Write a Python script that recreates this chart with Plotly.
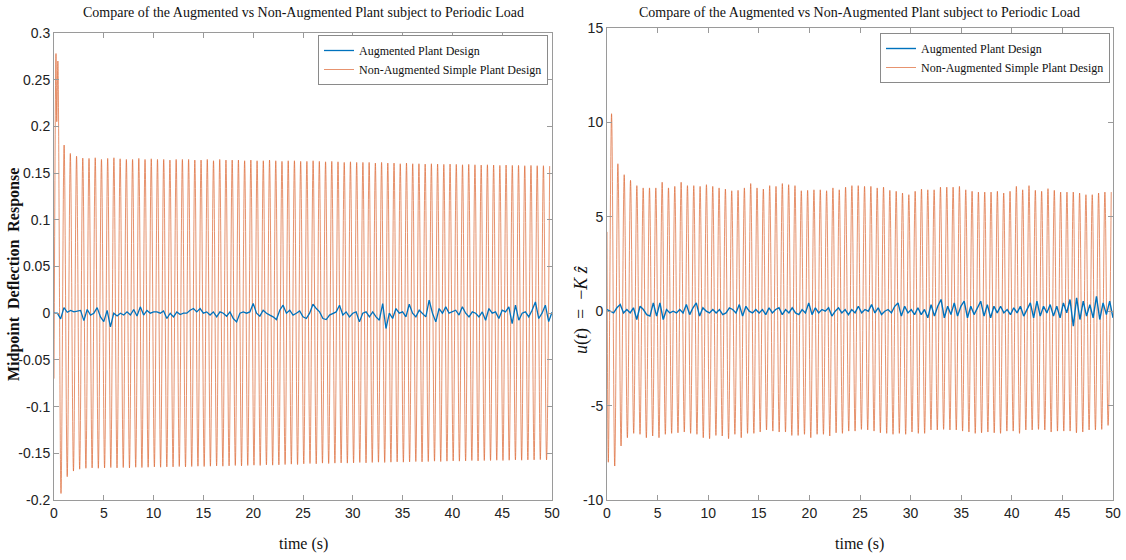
import numpy as np
import plotly.graph_objects as go

# ---------------- data ----------------
PERIOD = 0.625          # s, oscillation period of the periodic load response
HALF = PERIOD / 2

# Left panel: midpoint deflection, non-augmented (orange) extrema
left_prefix_t = [0.0, 0.20, 0.28]
left_prefix_v = [-0.07, 0.278, 0.205]
left_first_t = 0.39
left_peaks = [0.270, 0.180, 0.171, 0.168, 0.166, 0.1657, 0.1664, 0.1646, 0.1657, 0.1664,
              0.1653, 0.1646, 0.1646, 0.1657, 0.1646, 0.1653, 0.1646, 0.1646, 0.1639, 0.1646,
              0.1646, 0.1646, 0.1639, 0.1639, 0.1646, 0.1632, 0.1646, 0.1639, 0.1639, 0.1639,
              0.1632, 0.1639, 0.1632, 0.1632, 0.1639, 0.1632, 0.1625, 0.1632, 0.1632, 0.1625,
              0.1625, 0.1632, 0.1625, 0.1621, 0.1625, 0.1621, 0.1614, 0.1621, 0.1614, 0.1614,
              0.1614, 0.1607, 0.1614, 0.1607, 0.1607, 0.1600, 0.1607, 0.1600, 0.1600, 0.1596,
              0.1600, 0.1596, 0.1593, 0.1596, 0.1593, 0.1589, 0.1593, 0.1589, 0.1586, 0.1589,
              0.1586, 0.1582, 0.1586, 0.1582, 0.1582, 0.1579, 0.1582, 0.1579, 0.1579, 0.1575]
left_troughs = [-0.193, -0.175, -0.169, -0.167, -0.1660, -0.1656, -0.1660, -0.1656, -0.1652, -0.1656,
                -0.1652, -0.1656, -0.1649, -0.1652, -0.1649, -0.1645, -0.1649, -0.1645, -0.1645, -0.1641,
                -0.1645, -0.1641, -0.1638, -0.1641, -0.1638, -0.1634, -0.1638, -0.1634, -0.1630, -0.1634,
                -0.1630, -0.1627, -0.1630, -0.1623, -0.1627, -0.1623, -0.1620, -0.1616, -0.1620, -0.1612,
                -0.1609, -0.1612, -0.1605, -0.1609, -0.1605, -0.1602, -0.1605, -0.1602, -0.1598, -0.1602,
                -0.1598, -0.1595, -0.1598, -0.1595, -0.1591, -0.1595, -0.1591, -0.1588, -0.1591, -0.1588,
                -0.1584, -0.1588, -0.1584, -0.1581, -0.1584, -0.1581, -0.1577, -0.1581, -0.1577, -0.1577,
                -0.1574, -0.1577, -0.1574, -0.1570, -0.1574, -0.1570, -0.1570, -0.1567, -0.1570]

# Left panel: augmented plant (blue), sampled roughly every 1/3 s over 0..50 s
left_blue = [0.000, 0.000, -0.006, 0.006, 0.001, 0.003, 0.0014, 0.0025, 0.003, -0.008,
             0.004, -0.002, 0.000, 0.006, -0.004, -0.009, 0.003, -0.0146, 0.000, -0.003,
             0.000, -0.002, 0.0014, -0.002, 0.0039, -0.003, 0.0068, -0.002, 0.003, 0.000,
             0.0014, 0.0014, 0.000, 0.0025, -0.0057, 0.000, -0.0039, 0.0014, -0.0014, 0.000,
             0.000, 0.0032, 0.005, 0.0014, 0.005, 0.000, 0.0014, -0.002, 0.0014, -0.0039,
             0.0014, 0.000, -0.0032, 0.0014, -0.0057, -0.0093, 0.000, 0.0014, 0.000, 0.0014,
             0.0103, 0.000, -0.0032, 0.0032, 0.000, -0.002, -0.0039, -0.0068, 0.0032, 0.0086,
             0.000, 0.0032, -0.002, 0.000, 0.0025, -0.0039, -0.0057, 0.000, 0.0096, 0.005,
             0.0014, -0.0057, -0.0068, -0.002, 0.000, 0.0014, 0.0086, -0.002, 0.0014, -0.0039,
             0.000, 0.0014, -0.0093, 0.000, 0.0014, -0.0039, 0.0014, -0.0039, -0.0075, 0.0103,
             -0.0164, 0.000, -0.0057, 0.005, 0.000, 0.0014, -0.0039, 0.0096, 0.000, -0.0039,
             0.0032, 0.000, -0.0039, 0.0139, 0.000, -0.0093, 0.005, 0.000, 0.0068, 0.000,
             0.0014, 0.0032, -0.002, 0.0068, 0.000, -0.0039, 0.0014, 0.000, -0.0039, 0.0014,
             -0.0075, 0.005, 0.000, 0.0014, -0.0057, 0.0032, 0.0014, 0.0068, -0.0111, 0.0086,
             -0.0075, 0.000, 0.0014, -0.0039, 0.0032, 0.0121, -0.0057, 0.000, 0.0086, -0.009,
             0.001]

# Right panel: control input u(t) = -K z_hat, non-augmented (orange) extrema
right_prefix_t = [0.0, 0.13]
right_prefix_v = [4.2, -8.0]
right_first_t = 0.45
right_peaks = [10.46, 7.81, 7.23, 6.93, 6.65, 6.53, 6.53, 6.53, 6.83, 6.53,
               6.61, 6.83, 6.65, 6.65, 6.61, 6.70, 6.61, 6.53, 6.47, 6.38,
               6.40, 6.53, 6.76, 6.53, 6.47, 6.65, 6.61, 6.76, 6.70, 6.65,
               6.38, 6.40, 6.43, 6.43, 6.38, 6.53, 6.43, 6.57, 6.65, 6.65,
               6.61, 6.61, 6.53, 6.57, 6.40, 6.35, 6.26, 6.17, 6.35, 6.47,
               6.43, 6.43, 6.57, 6.57, 6.57, 6.61, 6.43, 6.35, 6.31, 6.31,
               6.31, 6.35, 6.26, 6.35, 6.61, 6.43, 6.65, 6.40, 6.35, 6.49,
               6.40, 6.31, 6.31, 6.31, 6.26, 6.17, 6.17, 6.26, 6.31, 6.31]
right_troughs = [-8.2, -7.14, -6.70, -6.47, -6.52, -6.70, -6.61, -6.70, -6.52, -6.47,
                 -6.44, -6.40, -6.47, -6.52, -6.70, -6.75, -6.58, -6.61, -6.75, -6.52,
                 -6.70, -6.47, -6.47, -6.40, -6.29, -6.35, -6.40, -6.40, -6.58, -6.58,
                 -6.52, -6.70, -6.52, -6.52, -6.61, -6.44, -6.47, -6.35, -6.35, -6.26,
                 -6.29, -6.35, -6.44, -6.47, -6.52, -6.47, -6.52, -6.40, -6.47, -6.47,
                 -6.29, -6.29, -6.26, -6.29, -6.29, -6.35, -6.40, -6.47, -6.44, -6.40,
                 -6.44, -6.47, -6.35, -6.35, -6.47, -6.29, -6.29, -6.26, -6.29, -6.40,
                 -6.35, -6.35, -6.35, -6.44, -6.40, -6.29, -6.29, -6.26, -6.05]

# Right panel: augmented plant (blue), sampled roughly every 1/3 s over 0..50 s
right_blue = [0.09, 0, -0.09, 0.18, 0.35, -0.09, 0.09, -0.09, 0.18, -0.44,
              0.26, 0.09, -0.18, -0.26, 0.44, -0.26, 0.44, -0.44, 0.09, -0.09,
              0, -0.09, 0.09, -0.09, 0.35, -0.18, 0.18, 0.44, -0.26, 0.18,
              0, -0.09, 0.09, -0.09, 0.09, -0.18, -0.09, 0.18, 0.09, -0.09,
              0.35, -0.26, 0.26, 0, -0.09, 0.09, -0.09, 0.09, -0.18, 0.18,
              -0.09, 0.09, 0.18, -0.18, 0.09, -0.09, 0.18, -0.09, -0.18, 0.09,
              -0.09, 0.44, -0.18, 0.18, -0.09, 0.09, 0, 0.18, -0.26, 0,
              0.18, -0.09, 0.09,
              -0.18, 0.09, -0.09, 0.26, -0.09, 0.09, 0, 0.35, -0.09, 0.18,
              -0.18, 0, 0.09, -0.09, 0.26, 0.44, -0.26, 0.26, -0.09, 0.09,
              -0.18, 0.18, -0.18, 0.09, -0.35, 0.35, -0.26, 0.26, 0.62, -0.35,
              0.26, -0.18, 0.44, -0.26, 0.26, 0.53, -0.35, 0.26, -0.18, 0.18,
              0.53, -0.26, 0.35, -0.35, 0.26, -0.09, 0.26, -0.09, 0.09, -0.18,
              0.18, -0.09, 0.26, -0.26, 0.09, 0.44, -0.35, 0.53, -0.26, 0.26,
              -0.09, 0.35, -0.26, 0.26, -0.35, 0.44, -0.09, 0.62, -0.79, 0.71,
              -0.44, 0.53, -0.26, 0.35, -0.35, 0.79, -0.44, 0.44, -0.18, 0.53,
              -0.35]

T_END = 50.0
x_ticks = [0, 5, 10, 15, 20, 25, 30, 35, 40, 45, 50]
left_yticks = [0.3, 0.25, 0.2, 0.15, 0.1, 0.05, 0, -0.05, -0.1, -0.15, -0.2]
left_yticklabels = ["0.3", "0.25", "0.2", "0.15", "0.1", "0.05", "0", "-0.05", "-0.1", "-0.15", "-0.2"]
right_yticks = [15, 10, 5, 0, -5, -10]
right_yticklabels = ["15", "10", "5", "0", "-5", "-10"]

TITLE = "Compare of the Augmented vs Non-Augmented Plant subject to Periodic Load"
NAME_A = "Augmented Plant Design"
NAME_N = "Non-Augmented Simple Plant Design"

BLUE = "#0072BD"
ORANGE = "#D95319"
SERIF = "Liberation Serif, Times New Roman, serif"
SANS = "Liberation Sans, Arial, sans-serif"


def extrema_series(prefix_t, prefix_v, t_first, peaks, troughs):
    vals = []
    for i in range(max(len(peaks), len(troughs))):
        if i < len(peaks):
            vals.append(peaks[i])
        if i < len(troughs):
            vals.append(troughs[i])
    t = t_first + HALF * np.arange(len(vals))
    return np.concatenate([prefix_t, t]), np.concatenate([prefix_v, vals])


lt, lv = extrema_series(left_prefix_t, left_prefix_v, left_first_t, left_peaks, left_troughs)
rt, rv = extrema_series(right_prefix_t, right_prefix_v, right_first_t, right_peaks, right_troughs)
lbt = np.linspace(0, T_END, len(left_blue))
rbt = np.linspace(0, T_END, len(right_blue))

fig = go.Figure()
# orange first (drawn underneath), blue on top
fig.add_trace(go.Scatter(x=lt, y=lv, mode="lines", name=NAME_N, line=dict(color=ORANGE, width=0.7, shape="spline"),
                         opacity=0.9, xaxis="x", yaxis="y", legend="legend", legendrank=2))
fig.add_trace(go.Scatter(x=lbt, y=left_blue, mode="lines", name=NAME_A, line=dict(color=BLUE, width=1.3),
                         xaxis="x", yaxis="y", legend="legend", legendrank=1))
fig.add_trace(go.Scatter(x=rt, y=rv, mode="lines", name=NAME_N, line=dict(color=ORANGE, width=0.7, shape="spline"),
                         opacity=0.9, xaxis="x2", yaxis="y2", legend="legend2", legendrank=2))
fig.add_trace(go.Scatter(x=rbt, y=right_blue, mode="lines", name=NAME_A, line=dict(color=BLUE, width=1.4),
                         xaxis="x2", yaxis="y2", legend="legend2", legendrank=1))

W, H = 1126, 560
axcol = "#9a9a9a"
common_x = dict(range=[0, 50], tickvals=x_ticks, ticks="inside", ticklen=5, tickcolor=axcol,
                showline=True, linecolor=axcol, linewidth=1, mirror="ticks", showgrid=False, zeroline=False,
                automargin=False, tickfont=dict(family=SANS, size=14, color="#222222"))
common_y = dict(ticks="inside", ticklen=5, tickcolor=axcol, showline=True, linecolor=axcol, linewidth=1,
                mirror="ticks", showgrid=False, zeroline=False, automargin=False,
                tickfont=dict(family=SANS, size=14, color="#222222"))

fig.update_layout(
    width=W, height=H,
    margin=dict(l=0, r=0, t=0, b=0, autoexpand=False),
    paper_bgcolor="white", plot_bgcolor="white",
    xaxis=dict(domain=[54 / W, 552 / W], anchor="y", **common_x),
    yaxis=dict(domain=[1 - 500 / H, 1 - 33 / H], anchor="x", range=[-0.2, 0.3],
               tickvals=left_yticks, ticktext=left_yticklabels, **common_y),
    xaxis2=dict(domain=[607 / W, 1113 / W], anchor="y2", **common_x),
    yaxis2=dict(domain=[1 - 500 / H, 1 - 28 / H], anchor="x2", range=[-10, 15],
                tickvals=right_yticks, ticktext=right_yticklabels, **common_y),
    legend=dict(x=548 / W, y=1 - 35 / H, xanchor="right", yanchor="top", bgcolor="white",
                bordercolor="#8a8a8a", borderwidth=1, font=dict(family=SERIF, size=12, color="#111111"),
                tracegroupgap=0, itemwidth=30),
    legend2=dict(x=1110 / W, y=1 - 33 / H, xanchor="right", yanchor="top", bgcolor="white",
                 bordercolor="#8a8a8a", borderwidth=1, font=dict(family=SERIF, size=12, color="#111111"),
                 tracegroupgap=0, itemwidth=30),
    showlegend=True,
)

ann = []
ann.append(dict(text=TITLE, x=(54 + 552) / 2 / W, y=1 - 12 / H, xref="paper", yref="paper",
                showarrow=False, font=dict(family=SERIF, size=14, color="#111111"), xanchor="center", yanchor="middle"))
ann.append(dict(text=TITLE, x=(607 + 1113) / 2 / W, y=1 - 12 / H, xref="paper", yref="paper",
                showarrow=False, font=dict(family=SERIF, size=14, color="#111111"), xanchor="center", yanchor="middle"))
ann.append(dict(text="time (s)", x=(54 + 552) / 2 / W, y=1 - 544 / H, xref="paper", yref="paper",
                showarrow=False, font=dict(family=SERIF, size=16, color="#111111"), xanchor="center", yanchor="middle"))
ann.append(dict(text="time (s)", x=(607 + 1113) / 2 / W, y=1 - 544 / H, xref="paper", yref="paper",
                showarrow=False, font=dict(family=SERIF, size=16, color="#111111"), xanchor="center", yanchor="middle"))
ann.append(dict(text="<b>Midpoint&nbsp;&nbsp;Deflection&nbsp;&nbsp;Response</b>", x=14 / W, y=1 - 275 / H,
                xref="paper", yref="paper", showarrow=False, textangle=-90,
                font=dict(family=SERIF, size=16, color="#111111"), xanchor="center", yanchor="middle"))
ann.append(dict(text="<i>u</i>(<i>t</i>)&nbsp;&nbsp;=&nbsp;&nbsp;−<i>K</i>&nbsp;<i>ẑ</i>", x=581 / W, y=1 - 310 / H,
                xref="paper", yref="paper", showarrow=False, textangle=-90,
                font=dict(family=SERIF, size=18, color="#111111"), xanchor="center", yanchor="middle"))
fig.update_layout(annotations=ann)

fig.write_html("out.html", config={"displayModeBar": False},
               post_script="document.body.style.margin='0';document.body.style.overflow='hidden';")
